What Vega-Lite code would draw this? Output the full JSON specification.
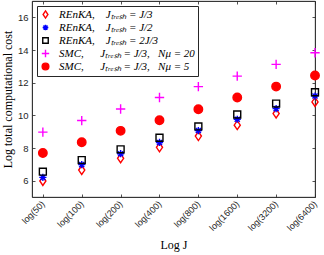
{
  "$schema": "https://vega.github.io/schema/vega-lite/v6.json",
  "autosize": {"type": "none"},
  "width": 283,
  "height": 196,
  "padding": {"left": 32, "top": 1, "right": 9, "bottom": 58},
  "background": "white",
  "config": {
    "view": {"stroke": "#262626", "strokeWidth": 0.8},
    "axis": {
      "domainColor": "#262626",
      "tickColor": "#262626",
      "labelColor": "#262626",
      "titleColor": "#000000",
      "grid": false,
      "labelFont": "Liberation Sans",
      "labelFontSize": 9,
      "titleFont": "Liberation Serif",
      "titleFontWeight": "normal",
      "titleFontSize": 12,
      "tickSize": -3,
      "domainWidth": 0.8,
      "tickWidth": 0.8
    },
    "legend": {
      "strokeColor": "#262626",
      "fillColor": "white",
      "padding": 3,
      "labelFont": "Liberation Serif",
      "labelFontStyle": "italic",
      "labelFontSize": 11,
      "labelColor": "#000000",
      "labelLimit": 400,
      "symbolSize": 45,
      "symbolStrokeWidth": 1.4,
      "rowPadding": 0,
      "labelOffset": 8
    }
  },
  "data": {
    "values": [
      {"J": 50, "series": "a", "cost": 5.98},
      {"J": 100, "series": "a", "cost": 6.65},
      {"J": 200, "series": "a", "cost": 7.37},
      {"J": 400, "series": "a", "cost": 8.04},
      {"J": 800, "series": "a", "cost": 8.73},
      {"J": 1600, "series": "a", "cost": 9.40},
      {"J": 3200, "series": "a", "cost": 10.11},
      {"J": 6400, "series": "a", "cost": 10.82},
      {"J": 50, "series": "b", "cost": 6.20},
      {"J": 100, "series": "b", "cost": 6.98},
      {"J": 200, "series": "b", "cost": 7.65},
      {"J": 400, "series": "b", "cost": 8.34},
      {"J": 800, "series": "b", "cost": 9.07},
      {"J": 1600, "series": "b", "cost": 9.76},
      {"J": 3200, "series": "b", "cost": 10.41},
      {"J": 6400, "series": "b", "cost": 11.18},
      {"J": 50, "series": "c", "cost": 6.55},
      {"J": 100, "series": "c", "cost": 7.26},
      {"J": 200, "series": "c", "cost": 7.92},
      {"J": 400, "series": "c", "cost": 8.63},
      {"J": 800, "series": "c", "cost": 9.32},
      {"J": 1600, "series": "c", "cost": 10.05},
      {"J": 3200, "series": "c", "cost": 10.72},
      {"J": 6400, "series": "c", "cost": 11.41},
      {"J": 50, "series": "d", "cost": 8.97},
      {"J": 100, "series": "d", "cost": 9.68},
      {"J": 200, "series": "d", "cost": 10.39},
      {"J": 400, "series": "d", "cost": 11.09},
      {"J": 800, "series": "d", "cost": 11.76},
      {"J": 1600, "series": "d", "cost": 12.40},
      {"J": 3200, "series": "d", "cost": 13.12},
      {"J": 6400, "series": "d", "cost": 13.83},
      {"J": 50, "series": "e", "cost": 7.69},
      {"J": 100, "series": "e", "cost": 8.35},
      {"J": 200, "series": "e", "cost": 9.05},
      {"J": 400, "series": "e", "cost": 9.70},
      {"J": 800, "series": "e", "cost": 10.37},
      {"J": 1600, "series": "e", "cost": 11.09},
      {"J": 3200, "series": "e", "cost": 11.76},
      {"J": 6400, "series": "e", "cost": 12.44}
    ]
  },
  "layer": [
    {
      "mark": {"type": "point", "size": 72, "strokeWidth": 1.4, "opacity": 1},
      "encoding": {
        "x": {
          "field": "J", "type": "quantitative",
          "scale": {"type": "log", "base": 2, "domain": [41.2, 6400]},
          "axis": {
            "title": "Log J",
            "titleFontWeight": "normal",
            "values": [50, 100, 200, 400, 800, 1600, 3200, 6400],
            "labelExpr": "'log(' + datum.value + ')'",
            "labelAngle": -45,
            "labelAlign": "right",
            "labelBaseline": "middle",
            "labelPadding": 8,
            "titlePadding": 7
          }
        },
        "y": {
          "field": "cost", "type": "quantitative",
          "scale": {"domain": [5, 17], "nice": false, "zero": false},
          "axis": {
            "title": "Log total computational cost",
            "titleFontWeight": "normal",
            "labelFontSize": 9.5,
            "values": [6, 8, 10, 12, 14, 16],
            "labelPadding": 7,
            "titlePadding": 3
          }
        },
        "shape": {
          "field": "series", "type": "nominal",
          "scale": {
            "domain": ["a", "b", "c", "d", "e"],
            "range": [
              "M0,-1.05L0.72,0L0,1.05L-0.72,0Z",
              "M-0.85,0L0.85,0M0,-0.85L0,0.85M-0.6,-0.6L0.6,0.6M-0.6,0.6L0.6,-0.6",
              "M-0.82,-0.82L0.82,-0.82L0.82,0.82L-0.82,0.82Z",
              "M-1.1,0L1.1,0M0,-1.1L0,1.1",
              "circle"
            ]
          },
          "legend": {
            "title": null,
            "orient": "top-left",
            "offset": 5,
            "labelExpr": "datum.value == 'a' ? 'REnKA,\u00a0\u00a0\u00a0\u00a0Jₜᵣₑₛₕ = J/3' : datum.value == 'b' ? 'REnKA,\u00a0\u00a0\u00a0\u00a0Jₜᵣₑₛₕ = J/2' : datum.value == 'c' ? 'REnKA,\u00a0\u00a0\u00a0\u00a0Jₜᵣₑₛₕ = 2J/3' : datum.value == 'd' ? 'SMC,\u00a0\u00a0\u00a0\u00a0\u00a0\u00a0Jₜᵣₑₛₕ = J/3,\u00a0\u00a0\u00a0Nμ = 20' : 'SMC,\u00a0\u00a0\u00a0\u00a0\u00a0\u00a0Jₜᵣₑₛₕ = J/3,\u00a0\u00a0\u00a0Nμ = 5'"
          }
        },
        "stroke": {
          "field": "series", "type": "nominal",
          "scale": {"domain": ["a", "b", "c", "d", "e"], "range": ["#ff0000", "#0000ff", "#000000", "#ff00ff", "#ff0000"]}
        },
        "fill": {
          "field": "series", "type": "nominal",
          "scale": {"domain": ["a", "b", "c", "d", "e"], "range": ["transparent", "transparent", "transparent", "transparent", "#ff0000"]}
        }
      }
    },
    {
      "mark": {"type": "point", "opacity": 0},
      "encoding": {
        "x": {
          "field": "J", "type": "quantitative",
          "scale": {"type": "log", "base": 2, "domain": [41.2, 6400]},
          "axis": {"orient": "top", "title": null, "labels": false, "values": [50, 100, 200, 400, 800, 1600, 3200, 6400]}
        },
        "y": {
          "field": "cost", "type": "quantitative",
          "scale": {"domain": [5, 17], "nice": false, "zero": false},
          "axis": {"orient": "right", "title": null, "labels": false, "values": [6, 8, 10, 12, 14, 16]}
        }
      }
    }
  ],
  "resolve": {"axis": {"x": "independent", "y": "independent"}}
}
